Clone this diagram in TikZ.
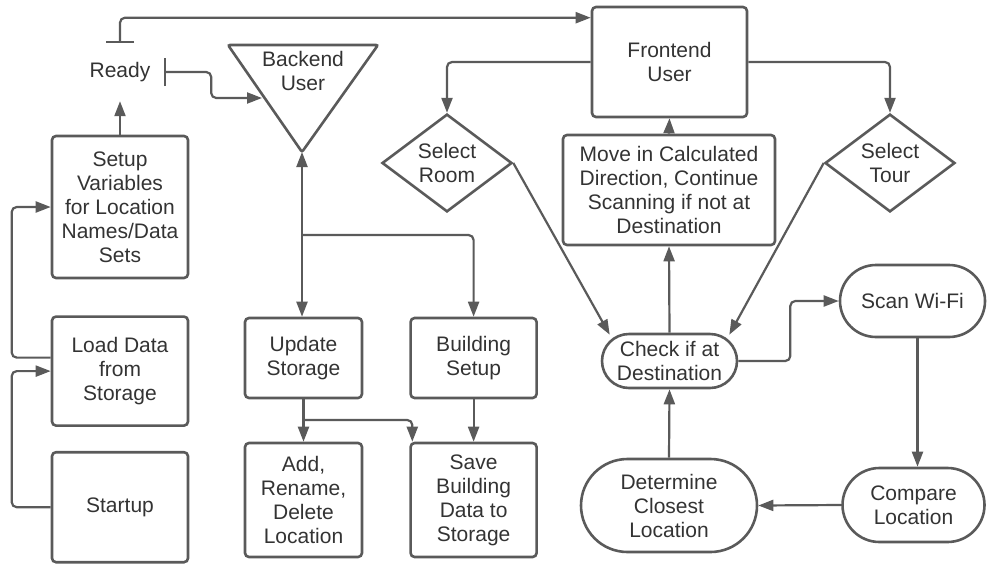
\documentclass[tikz,border=0pt]{standalone}
\usepackage{fontspec}
\setmainfont{Liberation Sans}
\usepackage{tikz}
\usetikzlibrary{arrows.meta,positioning,shapes.geometric,shapes.misc}
\definecolor{ln}{HTML}{5a5a5a}
\definecolor{txt}{HTML}{333333}

\begin{document}
\begin{tikzpicture}[
  x=1pt, y=-1pt,
  font=\fontsize{21}{24}\selectfont, text=txt,
  box/.style={draw=ln, line width=2.6pt, rounded corners=4pt, align=center, inner sep=0pt},
  pill/.style={draw=ln, line width=2.6pt, rounded rectangle, align=center, inner sep=0pt},
  choice/.style={draw=ln, line width=2.6pt, diamond, align=center, inner sep=0pt,
    minimum width=130pt, minimum height=89pt},
  arr/.style={draw=ln, line width=2.2pt, rounded corners=5pt, -{Triangle[length=15pt,width=11pt]}},
  tee/.style={draw=ln, line width=2.2pt, rounded corners=5pt,
    {Bar[width=28pt]}-{Triangle[length=15pt,width=11pt]}},
  node distance=36pt and 46pt]
\useasboundingbox (0,0) rectangle (987,563);

% left column
\node[box, minimum width=136pt, minimum height=142pt] (setup) at (120,207)
  {Setup\\Variables\\for Location\\Names/Data\\Sets};
\node[box, minimum width=136pt, minimum height=109pt, below=36pt of setup] (load)
  {Load Data\\from\\Storage};
\node[box, minimum width=136pt, minimum height=110pt, below=24pt of load] (start) {Startup};
\node[minimum width=88pt, minimum height=58pt, inner sep=0pt] (ready) at (120,72) {Ready};

% backend
\coordinate (bapex) at (302,152);
\coordinate (bedge) at (262,98);
\draw[draw=ln, line width=2.6pt, rounded corners=2pt] (228,45) -- (378,45) -- (bapex) -- cycle;
\node[align=center, inner sep=0pt] (back) at (303,71) {Backend\\User};
\node[box, minimum width=117pt, minimum height=80pt] (upd) at (303.5,358) {Update\\Storage};
\node[box, minimum width=126pt, minimum height=80pt, right=46pt of upd] (bld) {Building\\Setup};
\node[box, minimum width=117pt, minimum height=114pt] (add) at (303.5,500)
  {Add,\\Rename,\\Delete\\Location};
\node[box, minimum width=126pt, minimum height=114pt, right=46pt of add] (save)
  {Save\\Building\\Data to\\Storage};
\coordinate (bsplit) at (302,235);
\coordinate (usplit) at (302,420);

% frontend
\node[box, minimum width=155pt, minimum height=110pt] (front) at (669.5,62) {Frontend\\User};
\node[choice] (room) at (447,163) {Select\\Room};
\node[choice] (tour) at (890,163) {Select\\Tour};
\node[box, minimum width=212pt, minimum height=110pt] (move) at (669,190)
  {Move in Calculated\\Direction, Continue\\Scanning if not at\\Destination};
\node[pill, minimum width=135pt, minimum height=54pt] (check) at (669.5,361)
  {Check if at\\Destination};
\node[pill, minimum width=145pt, minimum height=72pt] (scan) at (912.5,301) {Scan Wi-Fi};
\node[pill, minimum width=142pt, minimum height=74pt] (compare) at (913.5,505)
  {Compare\\Location};
\node[pill, minimum width=176pt, minimum height=93pt] (determine) at (669,505.5)
  {Determine\\Closest\\Location};

% connectors
\draw[arr] (setup.north) -- (ready.south);
\draw[tee] (ready.north) |- ([yshift=-12pt]front.north west);
\draw[tee] (ready.east) -- ++(47,0) |- (bedge);
\draw[arr] (start.west) -- ++(-39,0) |- (load.west);
\draw[arr] ([yshift=13.5pt]load.west) -- ++(-39,0) |- (setup.west);
\draw[arr, {Triangle[length=15pt,width=11pt]}-{Triangle[length=15pt,width=11pt]}]
  (bapex) -- (bapex |- upd.north);
\draw[arr] (bsplit) -| (bld.north);
\draw[arr] (upd.south) -- (add.north);
\draw[arr] (usplit) -| ([xshift=3pt]save.north west);
\draw[arr] (bld.south) -- (save.north);
\draw[arr] (front.west) -| (room.north);
\draw[arr] (front.east) -| (tour.north);
\draw[arr] (move.north) -- (front.south);
\draw[arr] (check.north) -- (move.south);
\draw[arr] (room.east) -- ([xshift=9pt,yshift=-2pt]check.west |- check.north);
\draw[arr] (tour.west) -- ([xshift=-9pt,yshift=-2pt]check.east |- check.north);
\draw[arr] (check.east) -- ++(52,0) |- (scan.west);
\draw[arr] ([xshift=5pt]scan.south) -- ([xshift=5pt]scan.south |- compare.north);
\draw[arr] (compare.west) -- (determine.east);
\draw[arr] (determine.north) -- (check.south);
\end{tikzpicture}
\end{document}
